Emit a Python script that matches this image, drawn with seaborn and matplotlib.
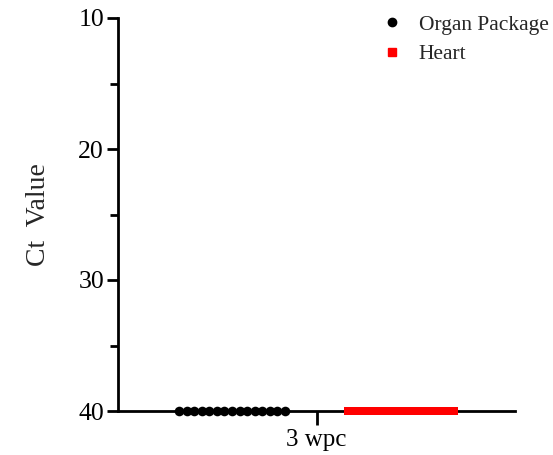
import matplotlib
matplotlib.use("Agg")
import matplotlib.pyplot as plt
from matplotlib.lines import Line2D
from matplotlib.ticker import MultipleLocator
import seaborn as sns
import pandas as pd
import numpy as np

# ---- data ----
age_groups = ["3 wpc"]
tissues = ["Organ Package", "Heart"]
organ_package_ct = [40, 40, 40, 40, 40, 40, 40, 40, 40, 40, 40, 40, 40, 40, 40]
heart_ct = [40, 40, 40, 40, 40, 40, 40, 40, 40, 40, 40, 40, 40, 40, 40, 40, 40, 40, 40, 40]
colors = {"Organ Package": "black", "Heart": "#ff0000"}
markers = {"Organ Package": "o", "Heart": "s"}
y_ticks = [10, 20, 30, 40]

# layout: each tissue occupies a dodged slot in the category, points spread across it
dodge = {"Organ Package": -0.2, "Heart": 0.2}
spread = 0.125
values = {"Organ Package": organ_package_ct, "Heart": heart_ct}

rows = []
for t in tissues:
    vals = values[t]
    offs = np.linspace(-spread, spread, len(vals))
    for v, o in zip(vals, offs):
        rows.append({"Age": age_groups[0], "Tissue": t, "Ct": v, "pos": dodge[t] + o})
df = pd.DataFrame(rows)

sns.set_style("ticks")
plt.rcParams["font.family"] = ["Liberation Serif", "DejaVu Serif"]

fig = plt.figure(figsize=(5.53, 4.55), dpi=100)
ax = fig.add_axes([118 / 553, 1 - 411 / 455, (515 - 118) / 553, (411 - 18) / 455])

sizes = {"Organ Package": 48, "Heart": 32}
for t in tissues:
    sub = df[df["Tissue"] == t]
    sns.scatterplot(data=sub, x="pos", y="Ct", color=colors[t], marker=markers[t],
                    s=sizes[t], linewidth=0, ax=ax, legend=False, zorder=5, clip_on=False)

ax.set_ylim(40, 10)
ax.set_xlim(-0.47, 0.47)
ax.set_xticks([0])
ax.set_xticklabels(age_groups)
ax.set_yticks(y_ticks)
ax.yaxis.set_minor_locator(MultipleLocator(5))
ax.set_xlabel("")
ax.set_ylabel("Ct  Value", fontsize=20, labelpad=20)

for s in ["top", "right"]:
    ax.spines[s].set_visible(False)
for s in ["left", "bottom"]:
    ax.spines[s].set_linewidth(2)
    ax.spines[s].set_color("black")

ax.tick_params(axis="both", which="major", length=8, width=2, labelsize=18.5,
               color="black", labelcolor="black", pad=2)
ax.tick_params(axis="y", which="minor", length=6, width=2, color="black")
ax.tick_params(axis="x", which="major", length=10, pad=3, labelsize=18)

handles = [Line2D([], [], linestyle="none", marker=markers[t], color=colors[t],
                  markersize=6 if t == "Organ Package" else 5.5, label=t) for t in tissues]
ax.legend(handles=handles, loc="upper right", bbox_to_anchor=(1.133, 1.058),
          frameon=False, fontsize=15.5, handletextpad=0.5, labelspacing=0.45,
          handlelength=1.5)

fig.savefig("out.png", dpi=100)
